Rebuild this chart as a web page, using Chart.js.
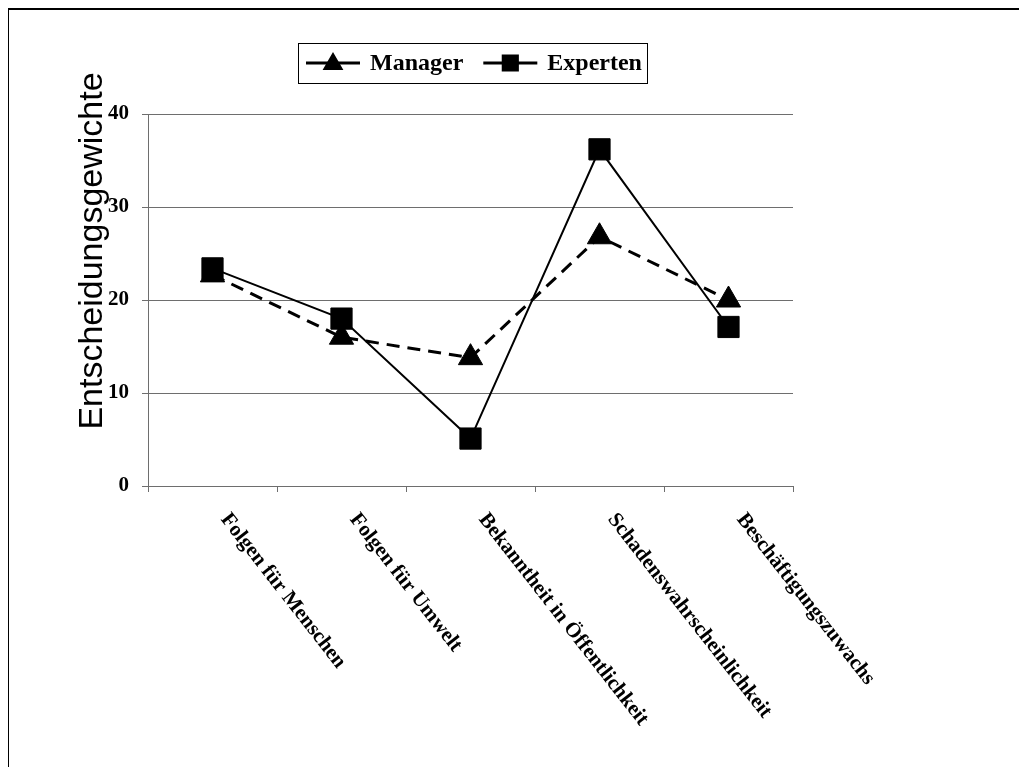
<!DOCTYPE html>
<html>
<head>
<meta charset="utf-8">
<script src="https://cdn.jsdelivr.net/npm/chart.js@4.4.1/dist/chart.umd.min.js"></script>
<style>
  html, body { margin: 0; padding: 0; background: #fff; }
  #wrap { position: relative; width: 1019px; height: 767px; overflow: hidden; }
  #frame { position: absolute; left: 8px; top: 8px; width: 1020px; height: 770px;
           border-top: 2px solid #000; border-left: 1px solid #000; pointer-events: none; }
  canvas { position: absolute; left: 0; top: 0; }
</style>
</head>
<body>
<div id="wrap">
  <canvas id="chart" width="1019" height="767"></canvas>
  <div id="frame"></div>
</div>
<script>
// Criteria and weights per respondent group
const categories = [
  'Folgen für Menschen',
  'Folgen für Umwelt',
  'Bekanntheit in Öffentlichkeit',
  'Schadenswahrscheinlichkeit',
  'Beschäftigungszuwachs'
];
const managerWeights  = [22.7, 16.0, 13.8, 26.8, 20.0];
const expertenWeights = [23.4, 18.0, 5.1, 36.2, 17.1];
const seriesNames = ['Manager', 'Experten'];
const yTickValues = [0, 10, 20, 30, 40];
const yAxisTitle = 'Entscheidungsgewichte';

const SERIF = '"Liberation Serif", "Times New Roman", serif';
const SANS = '"Liberation Sans", Arial, sans-serif';
const AXIS_GREY = '#6e6e6e';

// Rotated category labels, hanging down to the right below each point
const categoryLabelPlugin = {
  id: 'categoryLabels',
  afterDraw(chart) {
    const ctx = chart.ctx;
    const xs = chart.scales.x;
    ctx.save();
    ctx.font = 'bold 21px ' + SERIF;
    ctx.fillStyle = '#000';
    ctx.textAlign = 'left';
    ctx.textBaseline = 'middle';
    chart.data.labels.forEach((label, i) => {
      const px = xs.getPixelForValue(i);
      ctx.save();
      ctx.translate(px + 12, xs.top + 30);
      ctx.rotate(52 * Math.PI / 180);
      ctx.fillText(label, 0, 0);
      ctx.restore();
    });
    ctx.restore();
  }
};

// Vertical axis title
const yTitlePlugin = {
  id: 'yTitle',
  afterDraw(chart) {
    const ctx = chart.ctx;
    ctx.save();
    ctx.font = '34px ' + SANS;
    ctx.fillStyle = '#000';
    ctx.textAlign = 'center';
    ctx.textBaseline = 'middle';
    ctx.translate(93, 251);
    ctx.rotate(-Math.PI / 2);
    ctx.fillText(yAxisTitle, 0, 0);
    ctx.restore();
  }
};

// Boxed legend with line-and-marker samples
const boxedLegendPlugin = {
  id: 'boxedLegend',
  afterDraw(chart) {
    const ctx = chart.ctx;
    const box = { left: 298, top: 43, right: 647, bottom: 83 };
    const cy = (box.top + box.bottom) / 2;
    ctx.save();
    ctx.fillStyle = '#fff';
    ctx.fillRect(box.left, box.top, box.right - box.left, box.bottom - box.top);
    ctx.strokeStyle = '#000';
    ctx.lineWidth = 1;
    ctx.strokeRect(box.left + 0.5, box.top + 0.5, box.right - box.left, box.bottom - box.top);
    ctx.font = 'bold 24px ' + SERIF;
    ctx.textBaseline = 'middle';
    ctx.textAlign = 'left';
    let x = box.left + 8;
    chart.data.datasets.forEach(ds => {
      ctx.strokeStyle = '#000';
      ctx.lineWidth = 3;
      ctx.setLineDash([]);
      ctx.beginPath();
      ctx.moveTo(x, cy);
      ctx.lineTo(x + 54, cy);
      ctx.stroke();
      ctx.fillStyle = '#000';
      Chart.helpers.drawPoint(ctx, {
        pointStyle: ds.pointStyle,
        radius: ds.pointStyle === 'triangle' ? 9 : 10,
        rotation: 0,
        borderWidth: 1
      }, x + 27, cy + (ds.pointStyle === 'triangle' ? 1 : 0));
      ctx.fillStyle = '#000';
      ctx.fillText(ds.label, x + 64, cy + 1);
      x += 64 + ctx.measureText(ds.label).width + 20;
    });
    ctx.restore();
  }
};

new Chart(document.getElementById('chart'), {
  type: 'line',
  data: {
    labels: categories,
    datasets: [
      {
        label: seriesNames[0],
        data: managerWeights,
        borderColor: '#000',
        backgroundColor: '#000',
        borderWidth: 3,
        borderDash: [13, 8],
        pointStyle: 'triangle',
        pointRadius: 14,
        pointBorderWidth: 1,
        pointBackgroundColor: '#000',
        pointBorderColor: '#000',
        tension: 0,
        order: 1
      },
      {
        label: seriesNames[1],
        data: expertenWeights,
        borderColor: '#000',
        backgroundColor: '#000',
        borderWidth: 2,
        pointStyle: 'rect',
        pointRadius: 15,
        pointBorderWidth: 1,
        pointBackgroundColor: '#000',
        pointBorderColor: '#000',
        tension: 0,
        order: 0
      }
    ]
  },
  options: {
    responsive: false,
    animation: false,
    devicePixelRatio: 1,
    layout: { padding: { top: 114, right: 226, bottom: 275, left: 0 } },
    plugins: {
      legend: { display: false },
      tooltip: { enabled: false }
    },
    scales: {
      x: {
        type: 'category',
        offset: true,
        grid: {
          offset: true,
          drawOnChartArea: false,
          drawTicks: true,
          tickLength: 6,
          color: AXIS_GREY,
          lineWidth: 1
        },
        border: { display: true, color: AXIS_GREY, width: 1 },
        ticks: { display: false }
      },
      y: {
        min: 0,
        max: 40,
        afterFit(scale) { scale.width = 148; },
        afterBuildTicks(scale) { scale.ticks = yTickValues.map(v => ({ value: v })); },
        grid: {
          color: AXIS_GREY,
          lineWidth: 1,
          drawTicks: true,
          tickLength: 6
        },
        border: { display: true, color: AXIS_GREY, width: 1 },
        ticks: {
          padding: 13,
          color: '#000',
          font: { family: SERIF, size: 21, weight: 'bold' }
        }
      }
    }
  },
  plugins: [categoryLabelPlugin, yTitlePlugin, boxedLegendPlugin]
});
</script>
</body>
</html>
